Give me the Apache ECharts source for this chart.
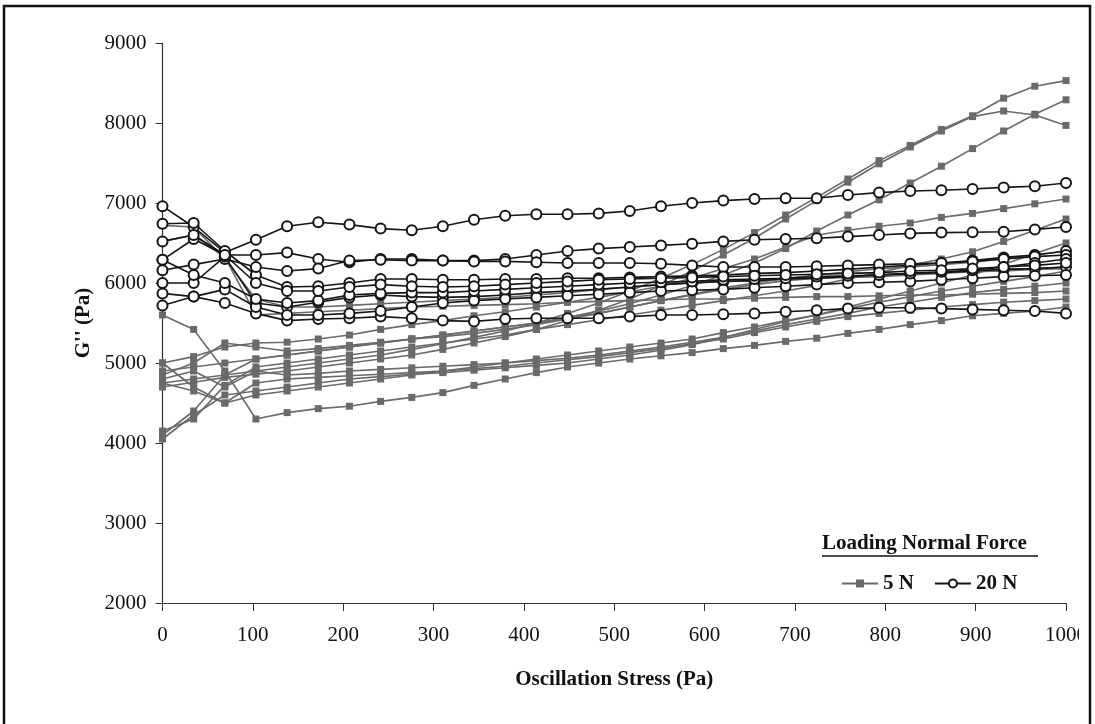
<!DOCTYPE html>
<html><head><meta charset="utf-8">
<script src="https://cdn.jsdelivr.net/npm/echarts@6/dist/echarts.min.js"></script>
<style>html,body{margin:0;padding:0;background:#fff}#c{width:1095px;height:724px}</style>
</head><body><div id="c"></div>
<script>
const stress = [0,34.5,69,103.4,137.9,172.4,206.9,241.4,275.9,310.3,344.8,379.3,413.8,448.3,482.8,517.2,551.7,586.2,620.7,655.2,689.7,724.1,758.6,793.1,827.6,862.1,896.6,931,965.5,1000];
const yTicks = [2000,3000,4000,5000,6000,7000,8000,9000];
const xTicks = [0,100,200,300,400,500,600,700,800,900,1000];

// 5 N series (grey squares)
const n5_A = [4750,4800,4850,4900,4950,5000,5050,5100,5170,5240,5320,5400,5500,5620,5750,5900,6060,6230,6420,6630,6850,7070,7300,7530,7720,7920,8090,8310,8460,8530];
const n5_B = [4900,4950,5000,5050,5100,5150,5200,5250,5300,5350,5400,5450,5500,5570,5650,5740,5850,5970,6100,6250,6430,6650,6850,7040,7250,7460,7680,7900,8110,8290];
const n5_C = [4700,4760,4820,4860,4900,4950,5000,5050,5100,5170,5250,5330,5420,5530,5660,5800,5970,6150,6350,6560,6800,7030,7260,7490,7700,7900,8080,8150,8100,7970];
const n5_D = [5000,5080,5200,5250,5260,5300,5350,5420,5480,5530,5590,5640,5700,5760,5820,5890,5960,6060,6180,6300,6450,6600,6660,6710,6750,6820,6870,6930,6990,7050];
const n5_E = [4150,4300,4720,4950,5000,5050,5100,5150,5200,5250,5300,5350,5420,5480,5540,5600,5660,5720,5780,5840,5900,5970,6050,6130,6220,6300,6390,6520,6660,6800];
const n5_F = [5600,5420,4900,4300,4380,4430,4460,4520,4570,4630,4720,4800,4880,4950,5000,5050,5090,5130,5180,5220,5270,5310,5370,5420,5480,5530,5590,5620,5650,5700];
const n5_G = [4100,4400,4850,5050,5100,5150,5200,5250,5300,5330,5370,5420,5480,5550,5620,5700,5780,5860,5940,6000,6060,6100,6140,6180,6200,6230,6260,6300,6350,6400];
const n5_H = [4050,4350,4600,4650,4700,4750,4800,4830,4860,4880,4910,4940,4970,5000,5050,5100,5160,5230,5320,5420,5520,5600,5680,5760,5830,5900,5960,6020,6080,6150];
const n5_I = [4800,4900,4700,4900,4850,4870,4900,4920,4940,4960,4980,5000,5030,5060,5100,5150,5200,5260,5320,5400,5480,5550,5620,5700,5760,5820,5880,5920,5960,6000];
const n5_J = [4850,5000,5250,5200,5150,5180,5220,5260,5300,5350,5400,5450,5500,5560,5620,5700,5780,5850,5920,5980,6030,6060,6080,6100,6120,6130,6150,6170,6180,6200];
const n5_K = [5000,4700,4500,4750,4800,4820,4840,4860,4880,4900,4930,4960,5000,5040,5080,5130,5180,5240,5300,5380,5450,5520,5580,5620,5660,5700,5730,5760,5780,5800];
const n5_L = [6720,6700,6300,5800,5700,5700,5720,5740,5760,5780,5800,5820,5850,5880,5920,5950,5980,6000,6020,6030,6050,6060,6070,6080,6100,6120,6140,6150,6170,6180];
const n5_M = [6520,6600,6320,5600,5620,5640,5660,5680,5700,5710,5720,5730,5740,5760,5770,5780,5790,5800,5800,5810,5820,5830,5830,5840,5850,5850,5860,5870,5880,5900];
const n5_N = [4750,4650,4500,4600,4650,4700,4750,4800,4850,4900,4950,5000,5050,5100,5150,5200,5250,5300,5380,5450,5530,5600,5700,5800,5900,6000,6100,6230,6370,6500];

// 20 N series (open circles)
const n20_A = [6960,6700,6380,6540,6710,6760,6730,6680,6660,6710,6790,6840,6860,6860,6870,6900,6960,7000,7030,7050,7060,7060,7100,7130,7150,7160,7175,7195,7210,7250];
const n20_B = [6290,6550,6350,6350,6380,6300,6260,6300,6300,6280,6280,6300,6350,6400,6430,6450,6470,6490,6520,6540,6550,6560,6580,6600,6620,6630,6635,6640,6670,6700];
const n20_C = [6740,6750,6400,6100,5950,5960,6000,6050,6050,6040,6040,6050,6050,6060,6060,6070,6080,6090,6100,6120,6130,6150,6170,6200,6220,6250,6280,6320,6350,6400];
const n20_D = [6160,6230,6300,6200,6150,6180,6280,6290,6280,6280,6270,6270,6260,6250,6250,6250,6240,6220,6200,6200,6200,6210,6220,6230,6240,6250,6270,6300,6330,6350];
const n20_E = [6000,6000,6330,5750,5700,5760,5820,5850,5830,5820,5830,5850,5880,5900,5920,5950,5980,6000,6020,6030,6050,6060,6080,6100,6120,6130,6150,6170,6180,6200];
const n20_F = [5870,5830,5750,5620,5530,5550,5560,5580,5560,5530,5520,5550,5560,5560,5560,5580,5600,5600,5610,5620,5640,5660,5680,5690,5690,5680,5670,5660,5650,5620];
const n20_G = [5720,5830,5920,5700,5600,5600,5620,5650,5700,5750,5780,5800,5820,5840,5860,5880,5900,5910,5920,5940,5960,5980,6000,6010,6020,6040,6060,6080,6090,6100];
const n20_H = [6290,6100,6000,5800,5750,5780,5850,5870,5880,5880,5900,5920,5940,5960,5980,6000,6010,6020,6040,6050,6060,6080,6090,6100,6120,6140,6160,6200,6250,6300];
const n20_I = [6520,6600,6350,6000,5900,5900,5950,5980,5960,5950,5960,5980,6000,6020,6040,6050,6060,6070,6080,6090,6100,6110,6120,6130,6150,6160,6180,6200,6220,6250];

const group5 = [n5_A,n5_B,n5_C,n5_D,n5_E,n5_F,n5_G,n5_H,n5_I,n5_J,n5_K,n5_L,n5_M,n5_N];
const group20 = [n20_A,n20_B,n20_C,n20_D,n20_E,n20_F,n20_G,n20_H,n20_I];

const FONT = '"Liberation Serif","Times New Roman",serif';
const series = [];
group5.forEach(arr => series.push({
  name: '5 N', type: 'line', data: arr.map((v,i)=>[stress[i], v]),
  symbol: 'rect', symbolSize: 7, color: '#6a6a6a',
  lineStyle: {width: 1.6, color: '#6a6a6a'}, itemStyle: {color: '#6a6a6a'},
  animation: false, z: 2
}));
group20.forEach(arr => series.push({
  name: '20 N', type: 'line', data: arr.map((v,i)=>[stress[i], v]),
  symbol: 'emptyCircle', symbolSize: 10, color: '#151515',
  lineStyle: {width: 1.6, color: '#151515'}, itemStyle: {color: '#151515', borderWidth: 1.5},
  animation: false, z: 3
}));

const chart = echarts.init(document.getElementById('c'), null, {renderer: 'canvas'});
chart.setOption({
  backgroundColor: '#fff',
  animation: false,
  textStyle: {fontFamily: FONT},
  grid: {left: 162.5, right: 29, top: 43, bottom: 121, containLabel: false},
  xAxis: {
    type: 'value', min: xTicks[0], max: xTicks[xTicks.length-1], interval: 100,
    name: 'Oscillation Stress (Pa)', nameLocation: 'middle', nameGap: 66,
    nameTextStyle: {fontFamily: FONT, fontSize: 21, fontWeight: 'bold', color: '#111'},
    axisLine: {lineStyle: {color: '#333', width: 1.2}},
    axisTick: {show: true, length: 8, lineStyle: {color: '#333'}},
    axisLabel: {fontFamily: FONT, fontSize: 21, color: '#111', margin: 22, formatter: v => String(v)},
    splitLine: {show: false}
  },
  yAxis: {
    type: 'value', min: yTicks[0], max: yTicks[yTicks.length-1], interval: 1000,
    name: "G'' (Pa)", nameLocation: 'middle', nameGap: 62, nameRotate: 90,
    nameTextStyle: {fontFamily: FONT, fontSize: 21, fontWeight: 'bold', color: '#111'},
    axisLine: {show: true, lineStyle: {color: '#333', width: 1.2}},
    axisTick: {show: true, length: 7, lineStyle: {color: '#333'}},
    axisLabel: {fontFamily: FONT, fontSize: 21, color: '#111', margin: 16, formatter: v => String(v)},
    splitLine: {show: false}
  },
  legend: {
    data: ['5 N', '20 N'], left: 836, top: 568, itemWidth: 36, itemHeight: 10, itemGap: 20,
    textStyle: {fontFamily: FONT, fontSize: 21, fontWeight: 'bold', color: '#111'},
    selectedMode: false
  },
  graphic: [
    {type: 'rect', shape: {x: 1079, y: 620, width: 9, height: 40}, style: {fill: '#fff'}, silent: true, z: 100},
    {type: 'rect', shape: {x: 4, y: 6, width: 1086, height: 740}, style: {fill: 'none', stroke: '#111', lineWidth: 2.5}, silent: true, z: 101},
    {type: 'text', left: 822, top: 533, style: {text: 'Loading Normal Force', font: 'bold 21px ' + FONT, fill: '#111'}, z: 10},
    {type: 'line', shape: {x1: 822, y1: 556, x2: 1038, y2: 556}, style: {stroke: '#111', lineWidth: 1.5}, z: 10}
  ],
  series: series
});
</script></body></html>
